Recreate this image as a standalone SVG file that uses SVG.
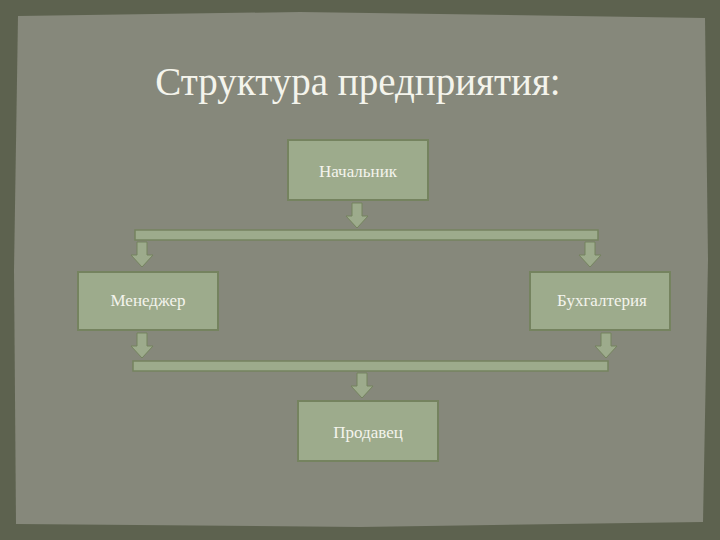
<svg xmlns="http://www.w3.org/2000/svg" width="720" height="540" viewBox="0 0 720 540">
<defs>
<style>
.box{fill:#9dab8c;stroke:#75835f;stroke-width:2}
.bar{fill:#9dab8c;stroke:#75835f;stroke-width:1.5}
.lbl{font-family:"Liberation Serif",serif;font-size:17px;fill:#f4f4ec;text-anchor:middle}
</style>
<path id="arr" d="M-5,0 H5 V13 H11 L0,25 L-11,13 H-5 Z" fill="#9dab8c" stroke="#75835f" stroke-width="1"/>
</defs>
<rect width="720" height="540" fill="#5d624f"/>
<path d="M18,16 L300,12 L705,18 L708,260 L703,522 L360,527 L16,524 L14,270 Z" fill="#86887b"/>
<text x="358" y="95" font-family="Liberation Serif,serif" font-size="39" fill="#f4f4ec" text-anchor="middle">Структура предприятия:</text>
<g id="connectors">
<use href="#arr" x="357" y="203"/>
<rect class="bar" x="135" y="230" width="463" height="10"/>
<use href="#arr" x="142" y="242"/>
<use href="#arr" x="590" y="242"/>
<use href="#arr" x="142" y="333"/>
<use href="#arr" x="606" y="333"/>
<rect class="bar" x="133" y="361" width="475" height="10"/>
<use href="#arr" x="362" y="373"/>
</g>
<g id="n1"><rect class="box" x="288" y="140" width="140" height="60"/><text class="lbl" x="358" y="177">Начальник</text></g>
<g id="n2"><rect class="box" x="78" y="272" width="140" height="58"/><text class="lbl" x="148" y="306">Менеджер</text></g>
<g id="n3"><rect class="box" x="530" y="272" width="140" height="58"/><text class="lbl" x="602" y="306">Бухгалтерия</text></g>
<g id="n4"><rect class="box" x="298" y="401" width="140" height="60"/><text class="lbl" x="368" y="438">Продавец</text></g>
</svg>
